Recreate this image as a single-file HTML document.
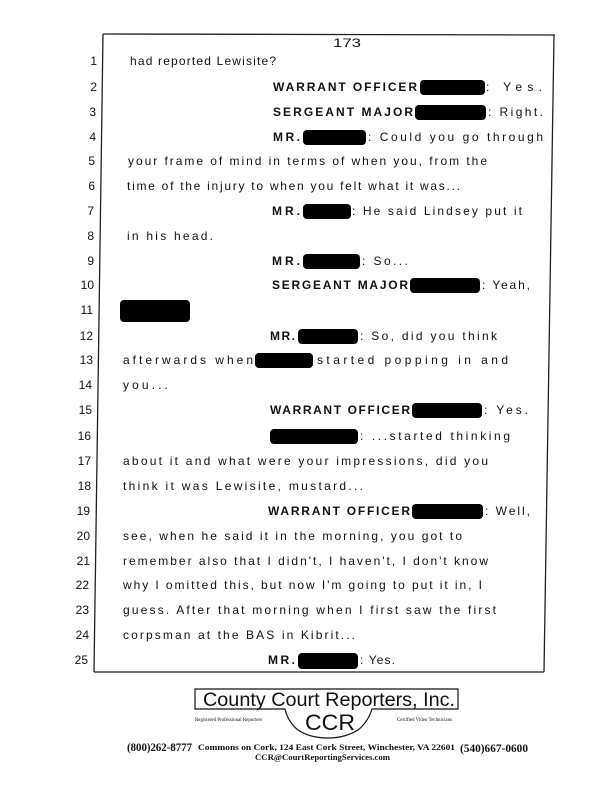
<!DOCTYPE html>
<html><head><meta charset="utf-8"><style>
html,body{margin:0;padding:0;background:#fff;}
svg{display:block;}
text{font-family:"Liberation Sans",Arial,sans-serif;font-size:12px;fill:#111;}
.b{font-weight:bold;}
.s{font-family:"Liberation Serif",serif;}
</style></head><body>
<svg width="612" height="792" viewBox="0 0 612 792" xmlns="http://www.w3.org/2000/svg">
<g stroke="#222" stroke-width="1.3" fill="none">
<line x1="103" y1="34" x2="555" y2="35"/>
<line x1="103" y1="34" x2="94" y2="672"/>
<line x1="554" y1="35" x2="544" y2="672"/>
<line x1="94" y1="672" x2="544" y2="672"/>
</g>
<text x="333" y="47" textLength="28" lengthAdjust="spacingAndGlyphs">173</text>
<g text-anchor="end">
<text x="97" y="65">1</text><text x="97" y="91">2</text><text x="96" y="116">3</text><text x="96" y="141">4</text><text x="95" y="165">5</text>
<text x="95" y="190">6</text><text x="94" y="215">7</text><text x="94" y="240">8</text><text x="94" y="265">9</text><text x="94" y="289">10</text>
<text x="93" y="314">11</text><text x="93" y="340">12</text><text x="93" y="364">13</text><text x="92" y="389">14</text><text x="92" y="414">15</text>
<text x="91" y="440">16</text><text x="91" y="465">17</text><text x="91" y="490">18</text><text x="90" y="515">19</text><text x="90" y="540">20</text>
<text x="90" y="565">21</text><text x="89" y="589">22</text><text x="89" y="614">23</text><text x="89" y="639">24</text><text x="88" y="664">25</text>
</g>
<g fill="#000">
<rect x="420" y="80" width="65" height="15" rx="4"/>
<rect x="415" y="105" width="71" height="15" rx="4"/>
<rect x="303" y="130" width="63" height="15" rx="4"/>
<rect x="303" y="204" width="48" height="15" rx="4"/>
<rect x="303" y="254" width="57" height="15" rx="4"/>
<rect x="410" y="278" width="70" height="15" rx="4"/>
<rect x="120" y="300" width="70" height="22" rx="4"/>
<rect x="298" y="329" width="60" height="15" rx="4"/>
<rect x="255" y="353" width="58" height="15" rx="4"/>
<rect x="412" y="403" width="70" height="15" rx="4"/>
<rect x="270" y="429" width="88" height="15" rx="4"/>
<rect x="412" y="504" width="71" height="15" rx="4"/>
<rect x="298" y="653" width="60" height="16" rx="4"/>
</g>
<text x="130" y="65" textLength="146" lengthAdjust="spacing">had reported Lewisite?</text>
<text class="b" x="273" y="91" textLength="144" lengthAdjust="spacing">WARRANT OFFICER</text>
<text x="486" y="91" textLength="56" lengthAdjust="spacing">: Yes.</text>
<text class="b" x="273" y="116" textLength="140" lengthAdjust="spacing">SERGEANT MAJOR</text>
<text x="488" y="116" textLength="55" lengthAdjust="spacing">: Right.</text>
<text class="b" x="273" y="141" textLength="27" lengthAdjust="spacing">MR.</text>
<text x="368" y="141" textLength="175" lengthAdjust="spacing">: Could you go through</text>
<text x="128" y="165" textLength="359" lengthAdjust="spacing">your frame of mind in terms of when you, from the</text>
<text x="127" y="190" textLength="333" lengthAdjust="spacing">time of the injury to when you felt what it was...</text>
<text class="b" x="272" y="215" textLength="28" lengthAdjust="spacing">MR.</text>
<text x="352" y="215" textLength="170" lengthAdjust="spacing">: He said Lindsey put it</text>
<text x="127" y="240" textLength="86" lengthAdjust="spacing">in his head.</text>
<text class="b" x="272" y="265" textLength="28" lengthAdjust="spacing">MR.</text>
<text x="362" y="265" textLength="46" lengthAdjust="spacing">: So...</text>
<text class="b" x="272" y="289" textLength="136" lengthAdjust="spacing">SERGEANT MAJOR</text>
<text x="482" y="289" textLength="48" lengthAdjust="spacing">: Yeah,</text>
<text class="b" x="270" y="340" textLength="25" lengthAdjust="spacing">MR.</text>
<text x="360" y="340" textLength="137" lengthAdjust="spacing">: So, did you think</text>
<text x="123" y="364" textLength="130" lengthAdjust="spacing">afterwards when</text>
<text x="317" y="364" textLength="191" lengthAdjust="spacing">started popping in and</text>
<text x="123" y="389" textLength="45" lengthAdjust="spacing">you...</text>
<text class="b" x="270" y="414" textLength="140" lengthAdjust="spacing">WARRANT OFFICER</text>
<text x="484" y="414" textLength="44" lengthAdjust="spacing">: Yes.</text>
<text x="360" y="440" textLength="150" lengthAdjust="spacing">: ...started thinking</text>
<text x="123" y="465" textLength="365" lengthAdjust="spacing">about it and what were your impressions, did you</text>
<text x="123" y="490" textLength="240" lengthAdjust="spacing">think it was Lewisite, mustard...</text>
<text class="b" x="268" y="515" textLength="142" lengthAdjust="spacing">WARRANT OFFICER</text>
<text x="485" y="515" textLength="45" lengthAdjust="spacing">: Well,</text>
<text x="123" y="540" textLength="339" lengthAdjust="spacing">see, when he said it in the morning, you got to</text>
<text x="123" y="565" textLength="365" lengthAdjust="spacing">remember also that I didn't, I haven't, I don't know</text>
<text x="123" y="589" textLength="359" lengthAdjust="spacing">why I omitted this, but now I'm going to put it in, I</text>
<text x="123" y="614" textLength="373" lengthAdjust="spacing">guess.  After that morning when I first saw the first</text>
<text x="123" y="639" textLength="232" lengthAdjust="spacing">corpsman at the BAS in Kibrit...</text>
<text class="b" x="268" y="664" textLength="27" lengthAdjust="spacing">MR.</text>
<text x="360" y="664" textLength="35" lengthAdjust="spacing">: Yes.</text>
<!-- logo -->
<g stroke="#111" stroke-width="1.2" fill="none">
<path d="M195 689 L458 689 L458 709 L372 709 Q368 722 358 730 Q345 738 328 738 Q310 738 298 730 Q288 722 285 709 L195 709 Z"/>
</g>
<text x="203" y="706" style="font-size:19px" textLength="252" lengthAdjust="spacingAndGlyphs">County Court Reporters, Inc.</text>
<text x="305" y="730" style="font-size:22px" textLength="50" lengthAdjust="spacingAndGlyphs">CCR</text>
<text class="s" x="195" y="721" style="font-size:5px" textLength="67" lengthAdjust="spacingAndGlyphs">Registered Professional Reporters</text>
<text class="s" x="397" y="721" style="font-size:5px" textLength="55" lengthAdjust="spacingAndGlyphs">Certified Video Technicians</text>
<text class="s b" x="127" y="751" style="font-size:12px" textLength="65" lengthAdjust="spacingAndGlyphs">(800)262-8777</text>
<text class="s b" x="198" y="750" style="font-size:8px" textLength="257" lengthAdjust="spacingAndGlyphs">Commons on Cork, 124 East Cork Street, Winchester, VA  22601</text>
<text class="s b" x="460" y="752" style="font-size:12px" textLength="68" lengthAdjust="spacingAndGlyphs">(540)667-0600</text>
<text class="s b" x="255" y="760" style="font-size:8px" textLength="135" lengthAdjust="spacingAndGlyphs">CCR@CourtReportingServices.com</text>
</svg>
</body></html>
